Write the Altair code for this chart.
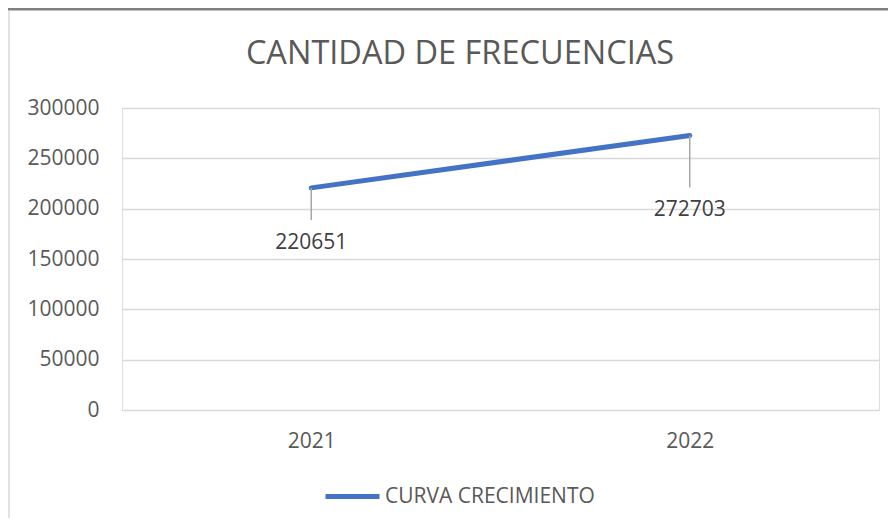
import altair as alt
import pandas as pd

years = ["2021", "2022"]
values = [220651, 272703]
series_name = "CURVA CRECIMIENTO"
y_ticks = [0, 50000, 100000, 150000, 200000, 250000, 300000]
title_text = "CANTIDAD DE FRECUENCIAS"

df = pd.DataFrame({"year": years, "value": values, "serie": [series_name] * len(years)})

W, H = 757, 302
FONT = "Open Sans"
PX = 300000 / H  # data units per pixel

base = alt.Chart(df)

x_enc = alt.X("year:N", scale=alt.Scale(type="point", padding=0.5),
              axis=alt.Axis(title=None, labelAngle=0, labelFont=FONT, labelFontSize=21,
                            labelColor="#595959", ticks=False, domain=False, grid=False,
                            labelPadding=20))
y_enc = alt.Y("value:Q", scale=alt.Scale(domain=[0, 300000], nice=False),
              axis=alt.Axis(title=None, values=y_ticks, format="d", labelFont=FONT,
                            labelFontSize=21, labelColor="#595959", ticks=False,
                            domain=False, gridColor="#D9D9D9", gridWidth=1.5,
                            labelPadding=23))

line = base.mark_line(strokeWidth=5, strokeCap="round", color="#4472C4").encode(
    x=x_enc, y=y_enc,
    color=alt.Color("serie:N", scale=alt.Scale(range=["#4472C4"]),
                    legend=alt.Legend(title=None, orient="none", legendX=201, legendY=359,
                                      symbolType="stroke", symbolSize=2916,
                                      symbolStrokeWidth=5, labelFont=FONT, labelFontSize=21,
                                      labelColor="#595959", labelOffset=3, labelLimit=0,
                                      symbolStrokeColor="#4472C4"))
)

# leader lines and data labels
offs = "datum.year == '2021' ? 32 : 52"
leaders = base.transform_calculate(
    ly=f"datum.value - ({offs}) * {PX}"
).mark_rule(color="#A6A6A6", strokeWidth=1.5).encode(
    x="year:N", y="value:Q", y2="ly:Q"
)
labels = base.transform_calculate(
    ty=f"datum.value - (({offs}) + 23) * {PX}"
).mark_text(font=FONT, fontSize=21, color="#404040", baseline="middle").encode(
    x="year:N", y="ty:Q", text=alt.Text("value:Q", format="d")
)

title = alt.Chart(pd.DataFrame({"t": [title_text]})).mark_text(
    font=FONT, fontSize=32.5, color="#595959", baseline="middle", align="center"
).encode(x=alt.value(338), y=alt.value(-54), text="t:N")

top_bar = alt.Chart(pd.DataFrame({"a": [0]})).mark_rule(color="#808080", strokeWidth=3).encode(
    x=alt.value(-114), x2=alt.value(W + 9), y=alt.value(-99))
left_border = alt.Chart(pd.DataFrame({"a": [0]})).mark_rule(color="#D9D9D9", strokeWidth=1.5).encode(
    x=alt.value(-113), y=alt.value(-97), y2=alt.value(H + 108))

chart = alt.layer(top_bar, left_border, line, leaders, labels, title).properties(
    width=W, height=H,
    autosize=alt.AutoSizeParams(type="none"),
    padding={"left": 114, "top": 100, "right": 9, "bottom": 108},
).configure_view(stroke=None).configure(background="white")

chart.save("out.html", embed_options={"renderer": "svg", "actions": False})
